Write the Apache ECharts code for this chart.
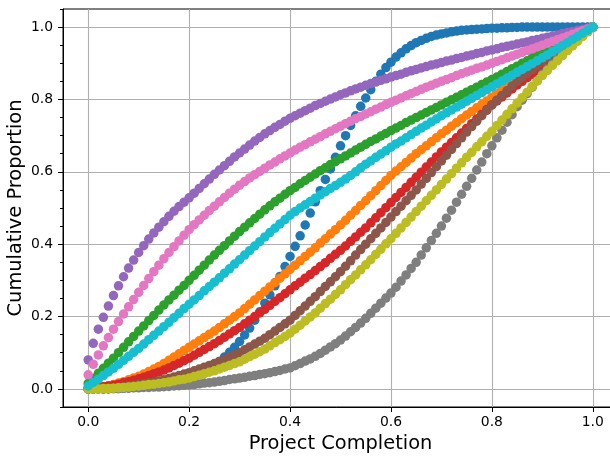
<!DOCTYPE html>
<html><head><meta charset="utf-8">
<script src="https://cdn.jsdelivr.net/npm/echarts@6.0.0/dist/echarts.min.js"></script>
<style>html,body{margin:0;padding:0;background:#fff}#c{width:610px;height:456px}</style>
</head><body><div id="c"></div>
<script>
const xValues = [0.00,0.01,0.02,0.03,0.04,0.05,0.06,0.07,0.08,0.09,0.10,0.11,0.12,0.13,0.14,0.15,0.16,0.17,0.18,0.19,0.20,0.21,0.22,0.23,0.24,0.25,0.26,0.27,0.28,0.29,0.30,0.31,0.32,0.33,0.34,0.35,0.36,0.37,0.38,0.39,0.40,0.41,0.42,0.43,0.44,0.45,0.46,0.47,0.48,0.49,0.50,0.51,0.52,0.53,0.54,0.55,0.56,0.57,0.58,0.59,0.60,0.61,0.62,0.63,0.64,0.65,0.66,0.67,0.68,0.69,0.70,0.71,0.72,0.73,0.74,0.75,0.76,0.77,0.78,0.79,0.80,0.81,0.82,0.83,0.84,0.85,0.86,0.87,0.88,0.89,0.90,0.91,0.92,0.93,0.94,0.95,0.96,0.97,0.98,0.99,1.00];

const blueValues = [0,0,0,0,0,.001,.001,.002,.003,.004,.005,.006,.008,.010,.012,.015,.018,.022,.026,.030,.035,.040,.046,.052,.059,.067,.076,.088,.101,.115,.131,.149,.168,.190,.213,.237,.260,.285,.311,.338,.366,.394,.423,.453,.486,.517,.548,.579,.608,.640,.672,.700,.728,.755,.781,.804,.827,.850,.870,.888,.903,.917,.929,.940,.949,.957,.963,.969,.974,.978,.981,.984,.987,.989,.991,.992,.993,.994,.995,.996,.997,.997,.998,.998,.999,.999,1,1,1,1,1,1,1,1,1,1,1,1,1,1,1];

const orangeValues = [.002,.003,.005,.007,.009,.012,.016,.020,.025,.030,.035,.041,.048,.055,.062,.070,.079,.088,.097,.106,.115,.124,.133,.142,.151,.160,.170,.180,.190,.200,.210,.222,.234,.246,.258,.270,.282,.294,.306,.318,.330,.342,.354,.366,.378,.390,.403,.415,.428,.440,.453,.466,.480,.493,.507,.520,.534,.548,.562,.576,.590,.602,.614,.626,.638,.650,.661,.672,.683,.694,.705,.715,.726,.736,.747,.757,.767,.777,.786,.796,.806,.816,.826,.835,.845,.855,.865,.875,.885,.895,.905,.915,.924,.934,.943,.953,.962,.972,.981,.991,1];

const greenValues = [.015,.029,.043,.057,.071,.085,.100,.115,.130,.145,.160,.174,.189,.203,.218,.232,.246,.259,.273,.286,.300,.314,.328,.342,.356,.370,.383,.396,.409,.422,.435,.447,.459,.471,.483,.495,.506,.517,.527,.538,.548,.557,.567,.576,.585,.594,.603,.611,.620,.628,.636,.644,.652,.660,.668,.676,.684,.691,.699,.706,.714,.721,.728,.736,.743,.750,.757,.764,.771,.778,.785,.792,.799,.806,.813,.820,.827,.834,.841,.848,.855,.862,.870,.877,.885,.892,.900,.907,.915,.922,.930,.937,.944,.951,.958,.965,.972,.979,.986,.993,1];

const redValues = [0,.002,.004,.006,.008,.010,.013,.017,.020,.024,.028,.032,.037,.042,.047,.052,.058,.065,.071,.078,.085,.093,.101,.109,.117,.125,.134,.143,.152,.161,.170,.180,.190,.200,.210,.220,.231,.242,.252,.263,.274,.285,.295,.306,.316,.327,.338,.349,.361,.372,.383,.395,.408,.420,.433,.445,.459,.473,.487,.501,.515,.529,.543,.557,.571,.585,.599,.613,.627,.641,.655,.668,.681,.694,.707,.720,.733,.746,.759,.772,.785,.796,.807,.818,.829,.840,.850,.860,.870,.880,.890,.901,.912,.923,.934,.945,.956,.967,.978,.989,1];

const purpleValues = [.080,.126,.165,.198,.229,.258,.285,.310,.334,.356,.377,.396,.414,.431,.447,.462,.477,.491,.504,.516,.528,.541,.554,.567,.580,.593,.605,.617,.629,.641,.652,.663,.674,.685,.695,.705,.714,.723,.731,.740,.748,.755,.762,.769,.776,.783,.789,.795,.801,.807,.813,.818,.824,.829,.834,.839,.844,.848,.853,.857,.862,.866,.870,.875,.879,.883,.887,.891,.895,.898,.902,.906,.909,.913,.916,.920,.923,.927,.930,.934,.937,.940,.944,.947,.950,.953,.956,.959,.963,.966,.969,.972,.975,.978,.982,.985,.988,.991,.994,.997,1];

const brownValues = [0,0,.001,.001,.002,.003,.004,.006,.008,.010,.012,.014,.017,.019,.022,.025,.029,.033,.037,.041,.045,.050,.055,.060,.065,.070,.076,.082,.088,.094,.100,.108,.116,.124,.132,.140,.150,.160,.170,.180,.190,.203,.216,.229,.242,.255,.269,.283,.296,.310,.324,.339,.354,.370,.385,.400,.415,.430,.445,.460,.475,.490,.505,.520,.535,.550,.566,.582,.598,.614,.630,.646,.662,.678,.694,.710,.725,.740,.755,.770,.785,.798,.811,.824,.837,.850,.861,.872,.883,.894,.905,.915,.924,.934,.943,.953,.962,.972,.981,.991,1];

const pinkValues = [.039,.068,.094,.119,.142,.165,.186,.207,.227,.247,.267,.286,.305,.324,.342,.360,.377,.393,.409,.425,.440,.454,.467,.480,.493,.505,.517,.529,.541,.552,.563,.573,.583,.592,.601,.610,.619,.627,.636,.644,.652,.660,.668,.675,.683,.690,.697,.705,.712,.719,.726,.733,.740,.747,.753,.760,.766,.773,.779,.786,.792,.798,.804,.810,.816,.822,.828,.834,.839,.845,.850,.855,.860,.866,.871,.876,.881,.886,.890,.895,.900,.905,.910,.915,.920,.925,.930,.935,.940,.945,.950,.955,.960,.965,.970,.975,.980,.985,.990,.995,1];

const grayValues = [0,0,0,0,.001,.001,.001,.002,.002,.003,.003,.004,.004,.005,.005,.006,.007,.008,.009,.010,.011,.012,.014,.016,.017,.019,.021,.023,.026,.028,.030,.032,.035,.037,.040,.042,.045,.048,.051,.055,.058,.064,.070,.077,.083,.090,.098,.107,.116,.125,.135,.146,.158,.170,.182,.195,.209,.223,.237,.251,.265,.281,.298,.315,.333,.350,.370,.390,.410,.430,.450,.472,.494,.516,.538,.560,.582,.605,.627,.650,.672,.694,.715,.737,.758,.780,.798,.816,.834,.852,.870,.884,.898,.912,.926,.940,.952,.964,.976,.988,1];

const oliveValues = [0,0,0,.001,.001,.002,.003,.004,.005,.007,.008,.010,.012,.013,.015,.017,.019,.022,.025,.027,.030,.034,.038,.042,.046,.050,.055,.060,.065,.070,.075,.082,.089,.096,.103,.110,.119,.128,.136,.145,.154,.165,.176,.188,.199,.210,.223,.236,.248,.261,.274,.288,.302,.315,.329,.343,.357,.372,.386,.401,.415,.430,.445,.460,.475,.490,.505,.520,.535,.550,.565,.580,.595,.610,.625,.640,.654,.669,.683,.698,.712,.728,.743,.759,.774,.790,.805,.820,.836,.851,.866,.880,.894,.907,.921,.935,.948,.961,.974,.987,1];

const cyanValues = [.008,.018,.027,.037,.047,.057,.068,.079,.090,.101,.112,.124,.136,.148,.160,.172,.184,.197,.209,.222,.234,.246,.258,.271,.283,.295,.307,.320,.332,.345,.357,.370,.382,.395,.407,.420,.432,.444,.456,.468,.480,.490,.500,.509,.518,.527,.536,.545,.554,.562,.571,.580,.590,.600,.611,.621,.630,.640,.649,.658,.668,.677,.685,.694,.703,.712,.721,.729,.738,.746,.755,.763,.771,.779,.787,.795,.803,.811,.819,.827,.835,.843,.851,.859,.867,.875,.883,.891,.899,.907,.915,.923,.932,.940,.949,.957,.966,.974,.983,.991,1];

const xTicks = [0, 0.2, 0.4, 0.6, 0.8, 1.0];
const yTicks = [0, 0.2, 0.4, 0.6, 0.8, 1.0];
const seriesNames = ['C0','C1','C2','C3','C4','C5','C6','C7','C8','C9'];
const seriesValues = [blueValues, orangeValues, greenValues, redValues, purpleValues, brownValues, pinkValues, grayValues, oliveValues, cyanValues];
const colors = ['#1f77b4','#ff7f0e','#2ca02c','#d62728','#9467bd','#8c564b','#e377c2','#7f7f7f','#bcbd22','#17becf'];

const FONT = 'DejaVu Sans';
const chart = echarts.init(document.getElementById('c'), null, {renderer: 'canvas'});
const fmt = v => Number(v).toFixed(1);

chart.setOption({
  animation: false,
  backgroundColor: '#ffffff',
  grid: {left: 63, top: 9, width: 555, height: 398, show: true, borderColor: '#000', borderWidth: 1, containLabel: false, outerBoundsMode: 'none'},
  xAxis: [{
    type: 'value', min: -0.05, max: 1.05,
    name: 'Project Completion', nameLocation: 'middle', nameGap: 27, nameMoveOverlap: false,
    nameTextStyle: {fontFamily: FONT, fontSize: 19.4, color: '#000'},
    axisLine: {show: true, onZero: false, lineStyle: {color: '#000', width: 1}},
    axisTick: {show: true, inside: false, length: 5, customValues: xTicks, lineStyle: {color: '#000', width: 1}},
    axisLabel: {show: true, customValues: xTicks, margin: 8, formatter: fmt, fontFamily: FONT, fontSize: 13.9, color: '#000'},
    splitLine: {show: true, lineStyle: {color: '#b0b0b0', width: 1.1}}
  }],
  yAxis: [{
    type: 'value', min: -0.05, max: 1.05, position: 'left',
    name: 'Cumulative Proportion', nameLocation: 'middle', nameGap: 38, nameMoveOverlap: false,
    nameTextStyle: {fontFamily: FONT, fontSize: 19.4, color: '#000'},
    axisLine: {show: true, onZero: false, lineStyle: {color: '#000', width: 1}},
    axisTick: {show: true, inside: false, length: 5, customValues: yTicks, lineStyle: {color: '#000', width: 1}},
    axisLabel: {show: true, customValues: yTicks, margin: 10, formatter: fmt, fontFamily: FONT, fontSize: 13.9, color: '#000'},
    splitLine: {show: true, lineStyle: {color: '#b0b0b0', width: 1.1}}
  }, {
    type: 'value', min: -0.05, max: 1.05, interval: 0.05, position: 'left',
    axisLine: {show: false, onZero: false},
    axisTick: {show: true, inside: false, length: 3, lineStyle: {color: '#000', width: 1}},
    axisLabel: {show: false},
    splitLine: {show: false}
  }],
  series: seriesValues.map((vals, i) => ({
    type: 'scatter',
    name: seriesNames[i],
    xAxisIndex: 0, yAxisIndex: 0,
    symbol: 'circle', symbolSize: 9.5,
    clip: false,
    itemStyle: {color: colors[i], opacity: 1},
    emphasis: {disabled: true},
    data: xValues.map((x, j) => [x, vals[j]])
  }))
});
</script></body></html>
